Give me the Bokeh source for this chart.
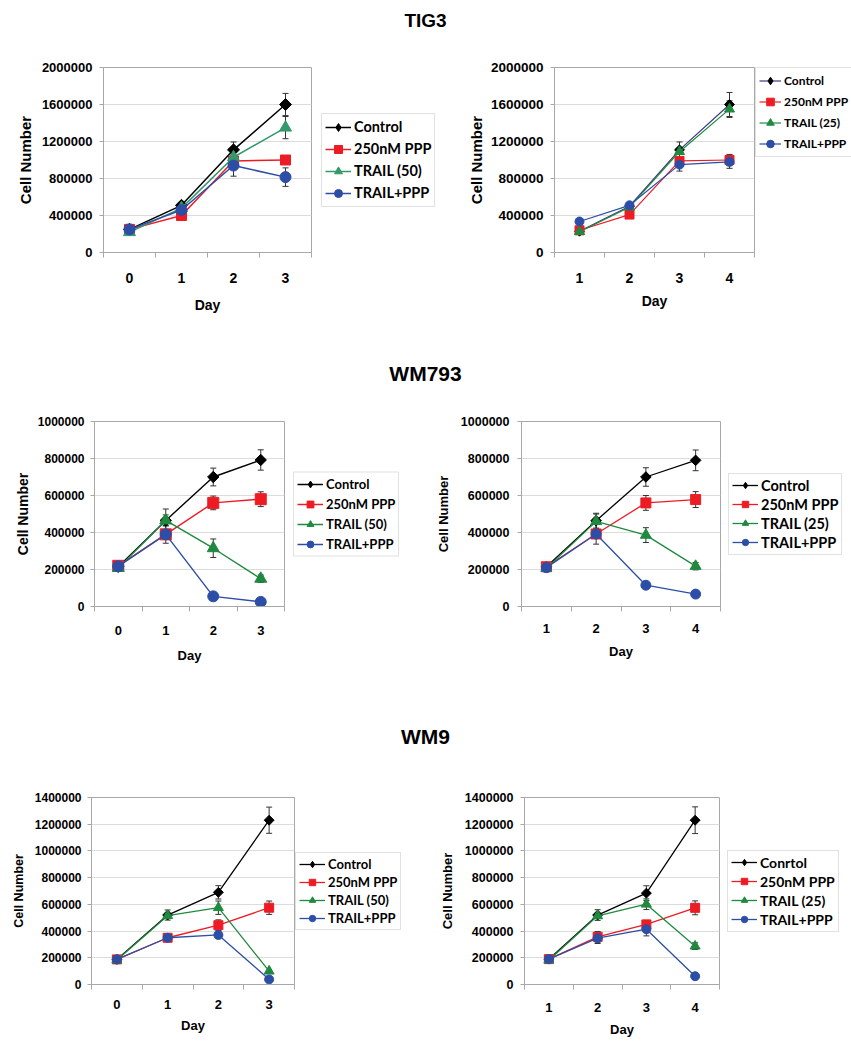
import numpy as np
from bokeh.plotting import figure
from bokeh.layouts import column, row
from bokeh.models import (Range1d, FixedTicker, BasicTickFormatter, Label,
                          ColumnDataSource, Whisker, TeeHead, Legend, LegendItem)
from bokeh.embed import file_html
from bokeh.resources import INLINE

FONT = "Liberation Sans"
LEGFONT = "Lato"

# ---------------- data ----------------
labels_50 = ["Control", "250nM PPP", "TRAIL (50)", "TRAIL+PPP"]
labels_25 = ["Control", "250nM PPP", "TRAIL (25)", "TRAIL+PPP"]
labels_wm9_25 = ["Conrtol", "250nM PPP", "TRAIL (25)", "TRAIL+PPP"]

days_a = [0, 1, 2, 3]
days_b = [1, 2, 3, 4]

# TIG3, TRAIL (50)
tig3a_ctrl = [250000, 510000, 1110000, 1600000]
tig3a_ctrl_err = [0, 20000, 85000, 120000]
tig3a_ppp = [250000, 400000, 990000, 1000000]
tig3a_ppp_err = [0, 0, 30000, 40000]
tig3a_trail = [220000, 480000, 1030000, 1350000]
tig3a_trail_err = [0, 0, 0, 120000]
tig3a_combo = [250000, 460000, 940000, 815000]
tig3a_combo_err = [0, 0, 115000, 100000]

# TIG3, TRAIL (25)
tig3b_ctrl = [230000, 500000, 1110000, 1600000]
tig3b_ctrl_err = [0, 0, 85000, 130000]
tig3b_ppp = [240000, 410000, 990000, 1000000]
tig3b_ppp_err = [0, 0, 0, 60000]
tig3b_trail = [225000, 490000, 1090000, 1550000]
tig3b_trail_err = [0, 0, 0, 90000]
tig3b_combo = [335000, 510000, 950000, 980000]
tig3b_combo_err = [0, 0, 70000, 70000]

# WM793, TRAIL (50)
wm793a_ctrl = [215000, 465000, 700000, 792000]
wm793a_ctrl_err = [0, 62000, 48000, 55000]
wm793a_ppp = [220000, 390000, 560000, 580000]
wm793a_ppp_err = [0, 48000, 37000, 40000]
wm793a_trail = [208000, 465000, 315000, 150000]
wm793a_trail_err = [0, 30000, 50000, 20000]
wm793a_combo = [217000, 390000, 55000, 25000]
wm793a_combo_err = [0, 0, 0, 0]

# WM793, TRAIL (25)
wm793b_ctrl = [215000, 464000, 700000, 790000]
wm793b_ctrl_err = [0, 40000, 50000, 56000]
wm793b_ppp = [215000, 392000, 560000, 578000]
wm793b_ppp_err = [0, 55000, 40000, 43000]
wm793b_trail = [207000, 460000, 386000, 218000]
wm793b_trail_err = [20000, 40000, 40000, 20000]
wm793b_combo = [210000, 392000, 115000, 67000]
wm793b_combo_err = [0, 0, 0, 0]

# WM9, TRAIL (50)
wm9a_ctrl = [188000, 520000, 690000, 1230000]
wm9a_ctrl_err = [0, 38000, 50000, 98000]
wm9a_ppp = [188000, 350000, 444000, 575000]
wm9a_ppp_err = [0, 0, 40000, 50000]
wm9a_trail = [183000, 515000, 575000, 100000]
wm9a_trail_err = [0, 0, 50000, 0]
wm9a_combo = [188000, 350000, 371000, 38000]
wm9a_combo_err = [0, 0, 0, 0]

# WM9, TRAIL (25)
wm9b_ctrl = [190000, 520000, 684000, 1230000]
wm9b_ctrl_err = [0, 40000, 55000, 100000]
wm9b_ppp = [190000, 357000, 450000, 574000]
wm9b_ppp_err = [0, 40000, 30000, 52000]
wm9b_trail = [182000, 514000, 601000, 287000]
wm9b_trail_err = [0, 0, 40000, 25000]
wm9b_combo = [190000, 347000, 414000, 62000]
wm9b_combo_err = [0, 40000, 50000, 0]

yticks_tig3 = [0, 400000, 800000, 1200000, 1600000, 2000000]
yticks_wm793 = [0, 200000, 400000, 600000, 800000, 1000000]
yticks_wm9 = [0, 200000, 400000, 600000, 800000, 1000000, 1200000, 1400000]

titles = ["TIG3", "WM793", "WM9"]

# ---------------- style ----------------
BLACK = "#000000"
RED = "#ed1c24"
GREEN_A = "#33996a"
GREEN = "#1f8a3f"
BLUE = "#2c4ea6"
NAVY = "#3a3a80"
GRAY = "#a8a8a8"
ERR = "#333333"
PAGE_W = 851

MARKERS = ["square", "square", "triangle", "circle"]
ANGLES = [np.pi / 4, 0, 0, 0]
LEG_MARKERS = ["diamond", "square", "triangle", "circle"]


def add_series(p, days, series, st, legend_only=False):
    rends = []
    mks = LEG_MARKERS if legend_only else MARKERS
    angs = [0, 0, 0, 0] if legend_only else ANGLES
    for (vals, errs), mk, ang, sz, lc, mc in zip(
            series, mks, angs, st["msizes"], st["lcolors"], st["mcolors"]):
        r1 = p.line(days, vals, line_color=lc, line_width=st["lw"])
        r2 = p.scatter(days, vals, marker=mk, angle=ang, size=sz, fill_color=mc,
                       line_color=mc)
        rends.append([r1, r2])
    return rends


def make_panel(days, series, yticks, fig_x0, fig_w, row_top, row_h, frame, st):
    fl, fr, ft, fb = frame
    p = figure(width=fig_w, height=row_h, toolbar_location=None,
               output_backend="svg", title=None,
               x_range=Range1d(days[0] - 0.5, days[-1] + 0.5),
               y_range=Range1d(0, yticks[-1]),
               min_border_left=fl - fig_x0,
               min_border_right=fig_x0 + fig_w - fr,
               min_border_top=ft - row_top,
               min_border_bottom=row_top + row_h - fb)
    p.outline_line_color = GRAY
    p.xgrid.visible = False
    p.ygrid.grid_line_color = "#dcdcdc"
    p.ygrid.ticker = FixedTicker(ticks=yticks)

    ya = p.yaxis[0]
    ya.ticker = FixedTicker(ticks=yticks)
    ya.formatter = BasicTickFormatter(use_scientific=False)
    ya.axis_line_color = GRAY
    ya.major_tick_line_color = GRAY
    ya.major_tick_out = 4
    ya.major_tick_in = 0
    ya.minor_tick_line_color = None
    ya.major_label_standoff = st["ystand"]
    ya.major_label_text_font = FONT
    ya.major_label_text_font_style = "bold"
    ya.major_label_text_font_size = st["ytick"]
    ya.major_label_text_color = BLACK
    ya.axis_label = "Cell Number"
    ya.axis_label_text_font = FONT
    ya.axis_label_text_font_style = "bold"
    ya.axis_label_text_font_size = st["ylab"]
    ya.axis_label_text_color = BLACK
    ya.axis_label_standoff = st["ylabstand"]

    xa = p.xaxis[0]
    bounds = [d - 0.5 for d in days] + [days[-1] + 0.5]
    xa.ticker = FixedTicker(ticks=days, minor_ticks=bounds)
    xa.axis_line_color = GRAY
    xa.major_tick_line_color = None
    xa.major_tick_out = 0
    xa.major_tick_in = 0
    xa.minor_tick_line_color = GRAY
    xa.minor_tick_out = 5
    xa.minor_tick_in = 0
    xa.major_label_standoff = st["xstand"]
    xa.major_label_text_font = FONT
    xa.major_label_text_font_style = "bold"
    xa.major_label_text_font_size = st["xtick"]
    xa.major_label_text_color = BLACK
    xa.axis_label = "Day"
    xa.axis_label_text_font = FONT
    xa.axis_label_text_font_style = "bold"
    xa.axis_label_text_font_size = st["xlab"]
    xa.axis_label_text_color = BLACK
    xa.axis_label_standoff = st["xlabstand"]

    add_series(p, days, series, st)
    for (vals, errs) in series:
        xs = [d for d, e in zip(days, errs) if e > 0]
        up = [v + e for v, e in zip(vals, errs) if e > 0]
        lo = [v - e for v, e in zip(vals, errs) if e > 0]
        if xs:
            src = ColumnDataSource(dict(x=xs, upper=up, lower=lo))
            p.add_layout(Whisker(base="x", upper="upper", lower="lower",
                                 source=src, line_color=ERR, line_width=1,
                                 upper_head=TeeHead(size=6, line_color=ERR, line_width=1),
                                 lower_head=TeeHead(size=6, line_color=ERR, line_width=1)))
    return p


def make_legend(days, series, labels, fig_x0, fig_w, row_h, legend_left, loc, st):
    """A legend-only strip; its renderers hold the same series but lie outside
    the strip's visible range, so only the legend is seen."""
    f = figure(width=fig_w, height=row_h, toolbar_location=None,
               output_backend="svg", title=None,
               x_axis_location=None, y_axis_location=None,
               x_range=Range1d(-20, -19), y_range=Range1d(0, 1),
               min_border_left=legend_left - fig_x0, min_border_top=0,
               min_border_right=0, min_border_bottom=0)
    f.outline_line_color = None
    f.grid.visible = False
    rends = add_series(f, days, series, st, legend_only=True)
    items = [LegendItem(label=lab, renderers=r) for lab, r in zip(labels, rends)]
    lg = Legend(items=items, location=loc, margin=0,
                border_line_color="#c4c4c4", border_line_width=1,
                background_fill_color="white", background_fill_alpha=1.0,
                label_text_font=LEGFONT, label_text_font_style="bold",
                label_text_font_size=st["legfont"], label_text_color=BLACK,
                glyph_width=st["legglyph"], glyph_height=st["legrow"],
                label_height=st["legrow"], label_standoff=3,
                spacing=st["legspace"], padding=3)
    f.add_layout(lg)
    return f


def title_fig(text, h, cy, size):
    t = figure(width=PAGE_W, height=h, toolbar_location=None, output_backend="svg",
               title=None, x_axis_location=None, y_axis_location=None,
               x_range=Range1d(0, 1), y_range=Range1d(0, 1), min_border=0)
    t.outline_line_color = None
    t.grid.visible = False
    t.add_layout(Label(x=425, y=h - cy, x_units="screen", y_units="screen",
                       text=text, text_align="center", text_baseline="middle",
                       text_font=FONT, text_font_style="bold",
                       text_font_size=size, text_color=BLACK))
    return t


# ---------------- panels ----------------
st1 = dict(ystand=7, ytick="13px", ylab="15px", ylabstand=5, xstand=15, xtick="14px",
           xlab="14px", xlabstand=11, lw=1.5, msizes=[8.5, 10, 12, 11],
           lcolors=[BLACK, RED, GREEN_A, BLUE], mcolors=[BLACK, RED, GREEN_A, BLUE],
           legfont="14.5px", legrow=20, legspace=2, legglyph=26)
st2 = dict(ystand=7, ytick="13.5px", ylab="15px", ylabstand=3, xstand=15, xtick="14px",
           xlab="14px", xlabstand=7, lw=1.2, msizes=[7, 9, 10, 9],
           lcolors=[NAVY, RED, GREEN, BLUE], mcolors=[BLACK, RED, GREEN, BLUE],
           legfont="12px", legrow=19, legspace=2, legglyph=22)
st3 = dict(ystand=6, ytick="12px", ylab="14px", ylabstand=4, xstand=14, xtick="13px",
           xlab="13px", xlabstand=10, lw=1.4, msizes=[8, 11, 12, 11],
           lcolors=[BLACK, RED, GREEN, BLUE], mcolors=[BLACK, RED, GREEN, BLUE],
           legfont="13px", legrow=17, legspace=3, legglyph=26)
st4 = dict(ystand=8, ytick="12.5px", ylab="13px", ylabstand=7, xstand=12, xtick="13px",
           xlab="13px", xlabstand=8, lw=1.3, msizes=[7.5, 10, 11, 10],
           lcolors=[BLACK, RED, GREEN, BLUE], mcolors=[BLACK, RED, GREEN, BLUE],
           legfont="14.5px", legrow=16, legspace=2, legglyph=26)
st5 = dict(ystand=6, ytick="12px", ylab="12.5px", ylabstand=6, xstand=10, xtick="13px",
           xlab="13px", xlabstand=6, lw=1.3, msizes=[7, 9, 10, 9],
           lcolors=[BLACK, RED, GREEN, BLUE], mcolors=[BLACK, RED, GREEN, BLUE],
           legfont="13px", legrow=16, legspace=2, legglyph=26)
st6 = dict(ystand=7, ytick="12.5px", ylab="13px", ylabstand=7, xstand=13, xtick="13px",
           xlab="13px", xlabstand=7, lw=1.3, msizes=[7, 9, 10, 9],
           lcolors=[BLACK, RED, GREEN, BLUE], mcolors=[BLACK, RED, GREEN, BLUE],
           legfont="14px", legrow=16, legspace=2, legglyph=26)

s1 = [(tig3a_ctrl, tig3a_ctrl_err), (tig3a_ppp, tig3a_ppp_err),
      (tig3a_trail, tig3a_trail_err), (tig3a_combo, tig3a_combo_err)]
s2 = [(tig3b_ctrl, tig3b_ctrl_err), (tig3b_ppp, tig3b_ppp_err),
      (tig3b_trail, tig3b_trail_err), (tig3b_combo, tig3b_combo_err)]
s3 = [(wm793a_ctrl, wm793a_ctrl_err), (wm793a_ppp, wm793a_ppp_err),
      (wm793a_trail, wm793a_trail_err), (wm793a_combo, wm793a_combo_err)]
s4 = [(wm793b_ctrl, wm793b_ctrl_err), (wm793b_ppp, wm793b_ppp_err),
      (wm793b_trail, wm793b_trail_err), (wm793b_combo, wm793b_combo_err)]
s5 = [(wm9a_ctrl, wm9a_ctrl_err), (wm9a_ppp, wm9a_ppp_err),
      (wm9a_trail, wm9a_trail_err), (wm9a_combo, wm9a_combo_err)]
s6 = [(wm9b_ctrl, wm9b_ctrl_err), (wm9b_ppp, wm9b_ppp_err),
      (wm9b_trail, wm9b_trail_err), (wm9b_combo, wm9b_combo_err)]

# frames within a row share top/bottom edges (Bokeh aligns them)
# row 1 (top 40, height 300)
p1 = make_panel(days_a, s1, yticks_tig3, 0, 316, 40, 300, (103, 311, 67, 252), st1)
l1 = make_legend(days_a, s1, labels_50, 316, 124, 300, 321, "center_left", st1)
p2 = make_panel(days_b, s2, yticks_tig3, 440, 315, 40, 300, (554, 754, 67, 252), st2)
l2 = make_legend(days_b, s2, labels_25, 755, 96, 300, 755, "top_left", st2)
# row 2 (top 395, height 305)
p3 = make_panel(days_a, s3, yticks_wm793, 0, 289, 395, 305, (94, 284, 421, 606), st3)
l3 = make_legend(days_a, s3, labels_50, 289, 136, 305, 293, "center_left", st3)
p4 = make_panel(days_b, s4, yticks_wm793, 425, 299, 395, 305, (521, 720, 421, 606), st4)
l4 = make_legend(days_b, s4, labels_25, 724, 127, 305, 728, "center_left", st4)
# row 3 (top 760, height 285)
p5 = make_panel(days_a, s5, yticks_wm9, 0, 295, 760, 285, (91, 294, 797, 984), st5)
l5 = make_legend(days_a, s5, labels_50, 295, 130, 285, 295, "center_left", st5)
p6 = make_panel(days_b, s6, yticks_wm9, 425, 298, 760, 285, (524, 719, 797, 984), st6)
l6 = make_legend(days_b, s6, labels_wm9_25, 723, 128, 285, 727, "center_left", st6)

t1 = title_fig(titles[0], 40, 20, "19px")
t2 = title_fig(titles[1], 55, 33, "21px")
t3 = title_fig(titles[2], 60, 36, "21px")

layout = column(t1, row(p1, l1, p2, l2, spacing=0), t2,
                row(p3, l3, p4, l4, spacing=0), t3,
                row(p5, l5, p6, l6, spacing=0), spacing=0)

open("out.html", "w").write(file_html(layout, INLINE))
